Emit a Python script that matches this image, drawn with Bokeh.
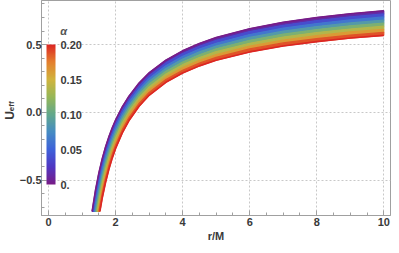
import math
from bokeh.plotting import figure
from bokeh.layouts import row
from bokeh.models import FixedTicker, ColorBar, LinearColorMapper, Label, Range1d
from bokeh.embed import file_html
from bokeh.resources import INLINE

# ---------------- data ----------------
alphas = [0.0, 0.025, 0.05, 0.075, 0.1, 0.125, 0.15, 0.175, 0.2]
r_start = [1.30, 1.336, 1.366, 1.393, 1.422, 1.451, 1.478, 1.503, 1.532]
u_start = -0.73
r_grid = [1.4, 1.5, 1.6, 1.7, 1.8, 1.9, 2.0, 2.2, 2.4, 2.7, 3.0, 3.5, 4.0, 4.5, 5.0, 6.0, 7.0, 8.0, 9.0, 10.0]

U_a000 = [-0.574, -0.448, -0.343, -0.255, -0.180, -0.114, -0.056, 0.041, 0.120, 0.216, 0.292, 0.385, 0.454, 0.508, 0.552, 0.617, 0.664, 0.699, 0.727, 0.749]
U_a025 = [-0.621, -0.489, -0.379, -0.288, -0.210, -0.142, -0.082, 0.017, 0.097, 0.195, 0.271, 0.365, 0.434, 0.487, 0.531, 0.596, 0.642, 0.677, 0.705, 0.726]
U_a050 = [-0.669, -0.530, -0.416, -0.320, -0.240, -0.170, -0.109, -0.007, 0.075, 0.173, 0.251, 0.344, 0.413, 0.467, 0.510, 0.574, 0.621, 0.655, 0.682, 0.704]
U_a075 = [-0.716, -0.571, -0.452, -0.353, -0.270, -0.198, -0.135, -0.031, 0.052, 0.152, 0.230, 0.324, 0.393, 0.446, 0.489, 0.553, 0.599, 0.633, 0.660, 0.681]
U_a100 = [None, -0.612, -0.488, -0.386, -0.300, -0.226, -0.161, -0.055, 0.030, 0.131, 0.209, 0.303, 0.372, 0.425, 0.469, 0.532, 0.577, 0.611, 0.638, 0.659]
U_a125 = [None, -0.652, -0.524, -0.418, -0.330, -0.253, -0.187, -0.079, 0.007, 0.109, 0.188, 0.283, 0.352, 0.405, 0.448, 0.510, 0.555, 0.589, 0.615, 0.636]
U_a150 = [None, -0.693, -0.561, -0.451, -0.360, -0.281, -0.214, -0.103, -0.015, 0.088, 0.168, 0.262, 0.331, 0.384, 0.427, 0.489, 0.534, 0.567, 0.593, 0.613]
U_a175 = [None, None, -0.597, -0.484, -0.390, -0.309, -0.240, -0.127, -0.038, 0.067, 0.147, 0.242, 0.311, 0.363, 0.406, 0.468, 0.512, 0.544, 0.570, 0.591]
U_a200 = [None, None, -0.633, -0.517, -0.420, -0.337, -0.266, -0.151, -0.060, 0.045, 0.126, 0.222, 0.290, 0.343, 0.385, 0.446, 0.490, 0.522, 0.548, 0.568]

curves_U = [U_a000, U_a025, U_a050, U_a075, U_a100, U_a125, U_a150, U_a175, U_a200]

x_ticks = [0, 2, 4, 6, 8, 10]
y_ticks = [-0.5, 0.0, 0.5]
y_tick_labels = {-0.5: "\u22120.5", 0: "0.0", 0.5: "0.5"}
cb_ticks = [0.0, 0.05, 0.1, 0.15, 0.2]
cb_tick_labels = {0: "0.", 0.05: "0.05", 0.1: "0.10", 0.15: "0.15", 0.2: "0.20"}

# ---------------- colour map (Mathematica-like "Rainbow") ----------------
stops = [(0.000, (120, 28, 134)), (0.125, (80, 55, 195)), (0.25, (62, 98, 218)),
         (0.375, (70, 140, 195)), (0.5, (98, 168, 140)), (0.625, (150, 183, 88)),
         (0.75, (208, 180, 62)), (0.875, (228, 128, 46)), (1.0, (220, 38, 35))]

def cmap(t):
    t = min(max(t, 0.0), 1.0)
    for (t0, c0), (t1, c1) in zip(stops[:-1], stops[1:]):
        if t <= t1:
            f = (t - t0) / (t1 - t0)
            return "#%02x%02x%02x" % tuple(int(round(a + (b - a) * f)) for a, b in zip(c0, c1))
    return "#%02x%02x%02x" % stops[-1][1]

palette = [cmap(i / 255) for i in range(256)]

# ---------------- curves ----------------
curves = []
for rs, U in zip(r_start, curves_U):
    xs = [rs] + [r for r, u in zip(r_grid, U) if u is not None]
    ys = [u_start] + [u for u in U if u is not None]
    curves.append((xs, ys))

FRAME = "#a0a0a0"
LBL = "#3a3a3a"
W, H, LW = 391, 245, 16

p = figure(width=W - LW, height=H, x_range=Range1d(-0.21, 10.2), y_range=Range1d(-0.76, 0.825),
           output_backend="svg", toolbar_location=None,
           min_border_left=41 - LW, min_border_right=1, min_border_top=0, min_border_bottom=30)
p.outline_line_color = FRAME
p.background_fill_color = "white"

# stripes between neighbouring curves
pxs, pys, cols = [], [], []
n = len(curves)
for k in range(n - 1):
    xa, ya = curves[k]
    xb, yb = curves[k + 1]
    pxs.append(xa + xb[::-1])
    pys.append(ya + yb[::-1])
    cols.append(cmap((alphas[k] + alphas[k + 1]) / 2 / 0.2))
p.patches(pxs, pys, fill_color=cols, line_color=cols, line_width=1.2)
for k in (0, n - 1):
    p.line(curves[k][0], curves[k][1], line_color=cmap(alphas[k] / 0.2), line_width=1.6)

# ---------------- axes ----------------
for ax in p.xaxis:
    ax.ticker = FixedTicker(ticks=x_ticks, minor_ticks=[i * 0.5 for i in range(-1, 22)])
for ax in p.yaxis:
    ax.ticker = FixedTicker(ticks=y_ticks, minor_ticks=[round(-0.7 + i * 0.1, 2) for i in range(16)])
    ax.major_label_overrides = y_tick_labels

for ax in list(p.xaxis) + list(p.yaxis):
    ax.axis_line_color = FRAME
    ax.major_tick_line_color = FRAME
    ax.minor_tick_line_color = FRAME
    ax.major_tick_in = 5
    ax.major_tick_out = 0
    ax.minor_tick_in = 3
    ax.minor_tick_out = 0
    ax.major_label_text_font = "Liberation Sans"
    ax.major_label_text_font_style = "bold"
    ax.major_label_text_font_size = "11px"
    ax.major_label_text_color = LBL

p.yaxis.major_label_standoff = 0
p.xaxis.major_label_standoff = 2
p.xaxis.axis_label = "r/M"
p.xaxis.axis_label_text_font = "Liberation Sans"
p.xaxis.axis_label_text_font_style = "bold"
p.xaxis.axis_label_text_font_size = "11px"
p.xaxis.axis_label_text_color = LBL
p.xaxis.axis_label_standoff = 1

p.xgrid.ticker = FixedTicker(ticks=x_ticks)
p.ygrid.ticker = FixedTicker(ticks=y_ticks)
for g in (p.xgrid, p.ygrid):
    g.grid_line_color = "#c8c8c8"
    g.grid_line_dash = "2 2"
    g.grid_line_width = 1

# ---------------- colour bar ----------------
mapper = LinearColorMapper(palette=palette, low=0.0, high=0.2)
cb = ColorBar(color_mapper=mapper, location=(5, 31), width=9, height=140, padding=0,
              ticker=FixedTicker(ticks=cb_ticks), major_label_overrides=cb_tick_labels,
              major_tick_line_color=None, minor_tick_line_color=None,
              bar_line_color=None, border_line_color=None,
              background_fill_alpha=0, label_standoff=5,
              major_label_text_font="Liberation Sans", major_label_text_font_style="bold",
              major_label_text_font_size="11px", major_label_text_color=LBL)
p.add_layout(cb, "center")
p.add_layout(Label(x=0.45, y=0.597, text="\u03b1", text_align="center", text_baseline="middle",
                   text_font="Liberation Sans", text_font_style="bold italic",
                   text_font_size="11px", text_color="#555555"))

# ---------------- y-axis title U_eff in a narrow side panel ----------------
pl = figure(width=LW, height=H, x_range=Range1d(0, LW), y_range=Range1d(0, H),
            output_backend="svg", toolbar_location=None,
            x_axis_location=None, y_axis_location=None,
            min_border_left=0, min_border_right=0, min_border_top=0, min_border_bottom=0)
pl.outline_line_color = None
pl.xgrid.visible = False
pl.ygrid.visible = False
pl.add_layout(Label(x=9.5, y=H - 131, text="U", angle=math.pi / 2, text_align="center",
                    text_baseline="alphabetic", text_font="Liberation Sans", text_font_style="bold",
                    text_font_size="12px", text_color=LBL))
pl.add_layout(Label(x=11.0, y=H - 120.5, text="eff", angle=math.pi / 2, text_align="center",
                    text_baseline="alphabetic", text_font="Liberation Sans", text_font_style="bold",
                    text_font_size="8px", text_color=LBL))

layout = row(pl, p, spacing=0)
open("out.html", "w").write(file_html(layout, INLINE))
